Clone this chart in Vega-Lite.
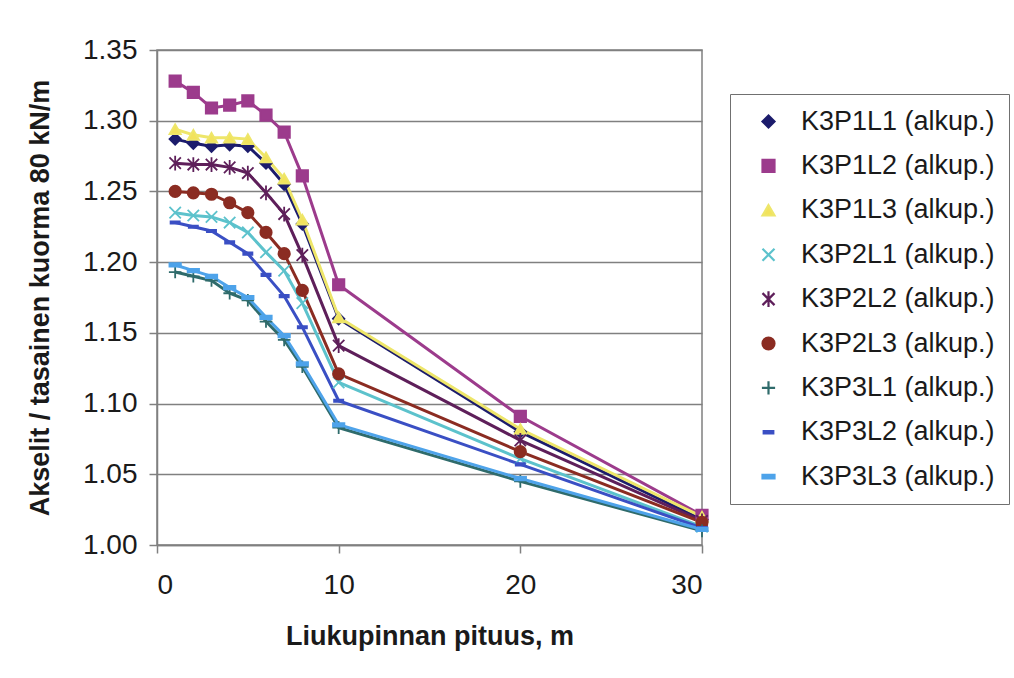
{
  "$schema": "https://vega.github.io/schema/vega-lite/v6.json",
  "autosize": "none",
  "width": 545,
  "height": 495,
  "padding": {"left": 157, "top": 50, "right": 312, "bottom": 133},
  "background": "white",
  "config": {
    "font": "Liberation Sans",
    "view": {"stroke": "#808080", "strokeWidth": 1.5},
    "axis": {"labelFont": "Liberation Sans", "titleFont": "Liberation Sans", "labelColor": "#1a1a1a", "titleColor": "#1a1a1a", "domainColor": "#808080", "tickColor": "#808080", "domainWidth": 1.5, "tickWidth": 1.5, "tickSize": 8, "labelFontSize": 28, "titleFontSize": 27, "titleFontWeight": "bold"},
    "legend": {"orient": "none", "legendX": 573, "legendY": 44, "padding": 14, "strokeColor": "#707070", "fillColor": "white", "labelFont": "Liberation Sans", "labelFontSize": 27, "labelColor": "#1a1a1a", "symbolSize": 144, "symbolOffset": 11, "labelOffset": 19, "rowPadding": 16.4, "symbolStrokeWidth": 2.2, "labelLimit": 400}
  },
  "data": {"values": [
    {"s": "K3P1L1 (alkup.)", "x": 1, "y": 1.287}, {"s": "K3P1L1 (alkup.)", "x": 2, "y": 1.284}, {"s": "K3P1L1 (alkup.)", "x": 3, "y": 1.282}, {"s": "K3P1L1 (alkup.)", "x": 4, "y": 1.283}, {"s": "K3P1L1 (alkup.)", "x": 5, "y": 1.282}, {"s": "K3P1L1 (alkup.)", "x": 6, "y": 1.270}, {"s": "K3P1L1 (alkup.)", "x": 7, "y": 1.255}, {"s": "K3P1L1 (alkup.)", "x": 8, "y": 1.227}, {"s": "K3P1L1 (alkup.)", "x": 10, "y": 1.160}, {"s": "K3P1L1 (alkup.)", "x": 20, "y": 1.080}, {"s": "K3P1L1 (alkup.)", "x": 30, "y": 1.018},
    {"s": "K3P1L2 (alkup.)", "x": 1, "y": 1.328}, {"s": "K3P1L2 (alkup.)", "x": 2, "y": 1.320}, {"s": "K3P1L2 (alkup.)", "x": 3, "y": 1.309}, {"s": "K3P1L2 (alkup.)", "x": 4, "y": 1.311}, {"s": "K3P1L2 (alkup.)", "x": 5, "y": 1.314}, {"s": "K3P1L2 (alkup.)", "x": 6, "y": 1.304}, {"s": "K3P1L2 (alkup.)", "x": 7, "y": 1.292}, {"s": "K3P1L2 (alkup.)", "x": 8, "y": 1.261}, {"s": "K3P1L2 (alkup.)", "x": 10, "y": 1.184}, {"s": "K3P1L2 (alkup.)", "x": 20, "y": 1.091}, {"s": "K3P1L2 (alkup.)", "x": 30, "y": 1.021},
    {"s": "K3P1L3 (alkup.)", "x": 1, "y": 1.294}, {"s": "K3P1L3 (alkup.)", "x": 2, "y": 1.290}, {"s": "K3P1L3 (alkup.)", "x": 3, "y": 1.288}, {"s": "K3P1L3 (alkup.)", "x": 4, "y": 1.288}, {"s": "K3P1L3 (alkup.)", "x": 5, "y": 1.287}, {"s": "K3P1L3 (alkup.)", "x": 6, "y": 1.274}, {"s": "K3P1L3 (alkup.)", "x": 7, "y": 1.259}, {"s": "K3P1L3 (alkup.)", "x": 8, "y": 1.230}, {"s": "K3P1L3 (alkup.)", "x": 10, "y": 1.161}, {"s": "K3P1L3 (alkup.)", "x": 20, "y": 1.082}, {"s": "K3P1L3 (alkup.)", "x": 30, "y": 1.020},
    {"s": "K3P2L1 (alkup.)", "x": 1, "y": 1.235}, {"s": "K3P2L1 (alkup.)", "x": 2, "y": 1.233}, {"s": "K3P2L1 (alkup.)", "x": 3, "y": 1.232}, {"s": "K3P2L1 (alkup.)", "x": 4, "y": 1.228}, {"s": "K3P2L1 (alkup.)", "x": 5, "y": 1.221}, {"s": "K3P2L1 (alkup.)", "x": 6, "y": 1.207}, {"s": "K3P2L1 (alkup.)", "x": 7, "y": 1.194}, {"s": "K3P2L1 (alkup.)", "x": 8, "y": 1.171}, {"s": "K3P2L1 (alkup.)", "x": 10, "y": 1.115}, {"s": "K3P2L1 (alkup.)", "x": 20, "y": 1.061}, {"s": "K3P2L1 (alkup.)", "x": 30, "y": 1.013},
    {"s": "K3P2L2 (alkup.)", "x": 1, "y": 1.270}, {"s": "K3P2L2 (alkup.)", "x": 2, "y": 1.269}, {"s": "K3P2L2 (alkup.)", "x": 3, "y": 1.269}, {"s": "K3P2L2 (alkup.)", "x": 4, "y": 1.267}, {"s": "K3P2L2 (alkup.)", "x": 5, "y": 1.263}, {"s": "K3P2L2 (alkup.)", "x": 6, "y": 1.249}, {"s": "K3P2L2 (alkup.)", "x": 7, "y": 1.234}, {"s": "K3P2L2 (alkup.)", "x": 8, "y": 1.205}, {"s": "K3P2L2 (alkup.)", "x": 10, "y": 1.141}, {"s": "K3P2L2 (alkup.)", "x": 20, "y": 1.074}, {"s": "K3P2L2 (alkup.)", "x": 30, "y": 1.017},
    {"s": "K3P2L3 (alkup.)", "x": 1, "y": 1.250}, {"s": "K3P2L3 (alkup.)", "x": 2, "y": 1.249}, {"s": "K3P2L3 (alkup.)", "x": 3, "y": 1.248}, {"s": "K3P2L3 (alkup.)", "x": 4, "y": 1.242}, {"s": "K3P2L3 (alkup.)", "x": 5, "y": 1.235}, {"s": "K3P2L3 (alkup.)", "x": 6, "y": 1.221}, {"s": "K3P2L3 (alkup.)", "x": 7, "y": 1.206}, {"s": "K3P2L3 (alkup.)", "x": 8, "y": 1.180}, {"s": "K3P2L3 (alkup.)", "x": 10, "y": 1.121}, {"s": "K3P2L3 (alkup.)", "x": 20, "y": 1.066}, {"s": "K3P2L3 (alkup.)", "x": 30, "y": 1.016},
    {"s": "K3P3L1 (alkup.)", "x": 1, "y": 1.193}, {"s": "K3P3L1 (alkup.)", "x": 2, "y": 1.190}, {"s": "K3P3L1 (alkup.)", "x": 3, "y": 1.187}, {"s": "K3P3L1 (alkup.)", "x": 4, "y": 1.178}, {"s": "K3P3L1 (alkup.)", "x": 5, "y": 1.173}, {"s": "K3P3L1 (alkup.)", "x": 6, "y": 1.158}, {"s": "K3P3L1 (alkup.)", "x": 7, "y": 1.145}, {"s": "K3P3L1 (alkup.)", "x": 8, "y": 1.126}, {"s": "K3P3L1 (alkup.)", "x": 10, "y": 1.083}, {"s": "K3P3L1 (alkup.)", "x": 20, "y": 1.045}, {"s": "K3P3L1 (alkup.)", "x": 30, "y": 1.010},
    {"s": "K3P3L2 (alkup.)", "x": 1, "y": 1.228}, {"s": "K3P3L2 (alkup.)", "x": 2, "y": 1.225}, {"s": "K3P3L2 (alkup.)", "x": 3, "y": 1.222}, {"s": "K3P3L2 (alkup.)", "x": 4, "y": 1.214}, {"s": "K3P3L2 (alkup.)", "x": 5, "y": 1.206}, {"s": "K3P3L2 (alkup.)", "x": 6, "y": 1.191}, {"s": "K3P3L2 (alkup.)", "x": 7, "y": 1.176}, {"s": "K3P3L2 (alkup.)", "x": 8, "y": 1.154}, {"s": "K3P3L2 (alkup.)", "x": 10, "y": 1.102}, {"s": "K3P3L2 (alkup.)", "x": 20, "y": 1.057}, {"s": "K3P3L2 (alkup.)", "x": 30, "y": 1.012},
    {"s": "K3P3L3 (alkup.)", "x": 1, "y": 1.198}, {"s": "K3P3L3 (alkup.)", "x": 2, "y": 1.194}, {"s": "K3P3L3 (alkup.)", "x": 3, "y": 1.190}, {"s": "K3P3L3 (alkup.)", "x": 4, "y": 1.182}, {"s": "K3P3L3 (alkup.)", "x": 5, "y": 1.175}, {"s": "K3P3L3 (alkup.)", "x": 6, "y": 1.161}, {"s": "K3P3L3 (alkup.)", "x": 7, "y": 1.148}, {"s": "K3P3L3 (alkup.)", "x": 8, "y": 1.128}, {"s": "K3P3L3 (alkup.)", "x": 10, "y": 1.085}, {"s": "K3P3L3 (alkup.)", "x": 20, "y": 1.047}, {"s": "K3P3L3 (alkup.)", "x": 30, "y": 1.011}
  ]},
  "encoding": {
    "x": {"field": "x", "type": "quantitative", "scale": {"domain": [0, 30], "nice": false}, "axis": {"values": [0, 10, 20, 30], "grid": false, "title": "Liukupinnan pituus, m", "labelPadding": 18, "titlePadding": 24}},
    "y": {"field": "y", "type": "quantitative", "scale": {"domain": [1.0, 1.35], "nice": false, "zero": false}, "axis": {"values": [1.0, 1.05, 1.1, 1.15, 1.2, 1.25, 1.3, 1.35], "format": ".2f", "grid": true, "gridColor": "#808080", "gridWidth": 1.5, "title": "Akselit / tasainen kuorma 80 kN/m", "labelPadding": 12, "titlePadding": 28}}
  },
  "layer": [
    {
      "mark": {"type": "line", "strokeWidth": 3},
      "encoding": {
        "stroke": {"field": "s", "type": "nominal", "legend": {"title": null},
          "scale": {"domain": ["K3P1L1 (alkup.)", "K3P1L2 (alkup.)", "K3P1L3 (alkup.)", "K3P2L1 (alkup.)", "K3P2L2 (alkup.)", "K3P2L3 (alkup.)", "K3P3L1 (alkup.)", "K3P3L2 (alkup.)", "K3P3L3 (alkup.)"],
                    "range": ["#1c1c6c", "#9c3b8c", "#eee66a", "#5cc2cc", "#5e1f5a", "#8b2c22", "#2f6b6b", "#3a4fc4", "#4ea3ea"]}}
      }
    },
    {
      "mark": {"type": "point", "filled": true, "size": 130, "strokeWidth": 1.8, "opacity": 1},
      "encoding": {
        "shape": {"field": "s", "type": "nominal", "legend": {"title": null},
          "scale": {"domain": ["K3P1L1 (alkup.)", "K3P1L2 (alkup.)", "K3P1L3 (alkup.)", "K3P2L1 (alkup.)", "K3P2L2 (alkup.)", "K3P2L3 (alkup.)", "K3P3L1 (alkup.)", "K3P3L2 (alkup.)", "K3P3L3 (alkup.)"],
                    "range": ["diamond", "square", "triangle-up", "M-1,-1L1,1M-1,1L1,-1", "M-1,-1L1,1M-1,1L1,-1M0,-1.3L0,1.3", "circle", "M0,-1.1L0,1.1M-1.1,0L1.1,0", "M-0.8,-0.2L0.8,-0.2L0.8,0.2L-0.8,0.2Z", "M-1,-0.3L1,-0.3L1,0.3L-1,0.3Z"]}},
        "fill": {"field": "s", "type": "nominal", "legend": {"title": null},
          "scale": {"domain": ["K3P1L1 (alkup.)", "K3P1L2 (alkup.)", "K3P1L3 (alkup.)", "K3P2L1 (alkup.)", "K3P2L2 (alkup.)", "K3P2L3 (alkup.)", "K3P3L1 (alkup.)", "K3P3L2 (alkup.)", "K3P3L3 (alkup.)"],
                    "range": ["#1c1c6c", "#9c3b8c", "#f2e25c", "#5cc2cc", "#5e1f5a", "#8b2c22", "#2f6b6b", "#3a4fc4", "#4ea3ea"]}},
        "stroke": {"field": "s", "type": "nominal", "legend": {"title": null}}
      }
    }
  ]
}
